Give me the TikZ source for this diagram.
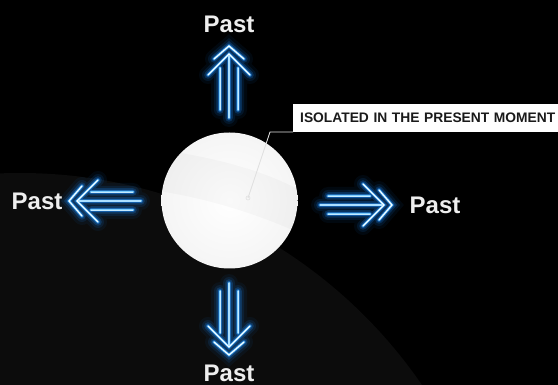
\documentclass[tikz,border=0pt]{standalone}
\usepackage{fontspec}
\setmainfont{Liberation Sans}
\definecolor{bgdisc}{HTML}{0C0C0C}
\definecolor{glowblue}{HTML}{1A8CFF}
\definecolor{midblue}{HTML}{7CCFFF}
\definecolor{pastgray}{HTML}{EEEEEE}
\definecolor{labeltext}{HTML}{1A1A1A}
\newcommand\arrmain{(-72,0) -- (-10,0) (-13,-15) -- (0,0) -- (-13,15) (-29,-21) -- (-8,0) -- (-29,21)}
\newcommand\arrside{(-64,-9) -- (-22,-9) (-64,9) -- (-22,9)}
\newcommand\pastarrow[3]{%
  \begin{scope}[shift={(#1,#2)},rotate=#3]
    \foreach \w/\o in {18/0.06,12/0.11,7.5/0.22,4/0.45}{%
      \draw[glowline,line width=\w pt,opacity=\o] \arrmain \arrside;}
    \draw[glowline,line width=2pt,midblue] \arrmain \arrside;
    \draw[glowline,line width=0.9pt,white] \arrmain;
    \draw[glowline,line width=0.7pt,white!55!midblue] \arrside;
  \end{scope}}
\begin{document}
\begin{tikzpicture}[x=1pt,y=-1pt,
  glowline/.style={draw=glowblue,line cap=round,line join=miter},
  pasttext/.style={font=\bfseries\fontsize{24}{24}\selectfont,text=pastgray,inner sep=0pt},
  labelbox/.style={fill=white,inner xsep=7pt,inner ysep=0pt,minimum height=28pt,
    text width=262pt,align=left,text=labeltext,
    font=\bfseries\fontsize{13.8}{14}\selectfont},
  ballnode/.style={circle,minimum size=136pt,inner sep=0pt,inner color=white,outer color=black!4},
  callout/.style={draw=white!88!black,line width=0.8pt}]
\useasboundingbox (0,0) rectangle (558,385);
\fill[black] (0,0) rectangle (558,385);
\begin{scope}
  \clip (0,0) rectangle (558,385);
  \fill[bgdisc] (20,660) circle[radius=487];
\end{scope}
% arrows
\pastarrow{229}{46}{90}
\pastarrow{229}{355}{270}
\pastarrow{69}{201}{180}
\pastarrow{392}{205}{0}
% ball
\node[ballnode] (ball) at (229.5,200.5) {};
\begin{scope}
  \clip (229.5,200.5) circle[radius=68];
  \fill[black,opacity=0.025] (150,148) .. controls (220,158) and (270,172) .. (310,196)
     -- (310,238) .. controls (260,214) and (200,196) .. (150,190) -- cycle;
\end{scope}
% labels
\node[pasttext] (ptop) at (229,24) {Past};
\node[pasttext] (pbot) at (229,373) {Past};
\node[pasttext] (pleft) at (37,201) {Past};
\node[pasttext] (pright) at (435,205) {Past};
\node[labelbox,anchor=south west] (lbl) at (293,132) {ISOLATED IN THE PRESENT MOMENT};
\coordinate (dot) at (248,198);
\coordinate (bend) at (270,132);
\draw[callout] (dot) -- (bend) -- (lbl.south west);
\draw[callout,line width=0.6pt] (dot) circle[radius=2];
\end{tikzpicture}
\end{document}
